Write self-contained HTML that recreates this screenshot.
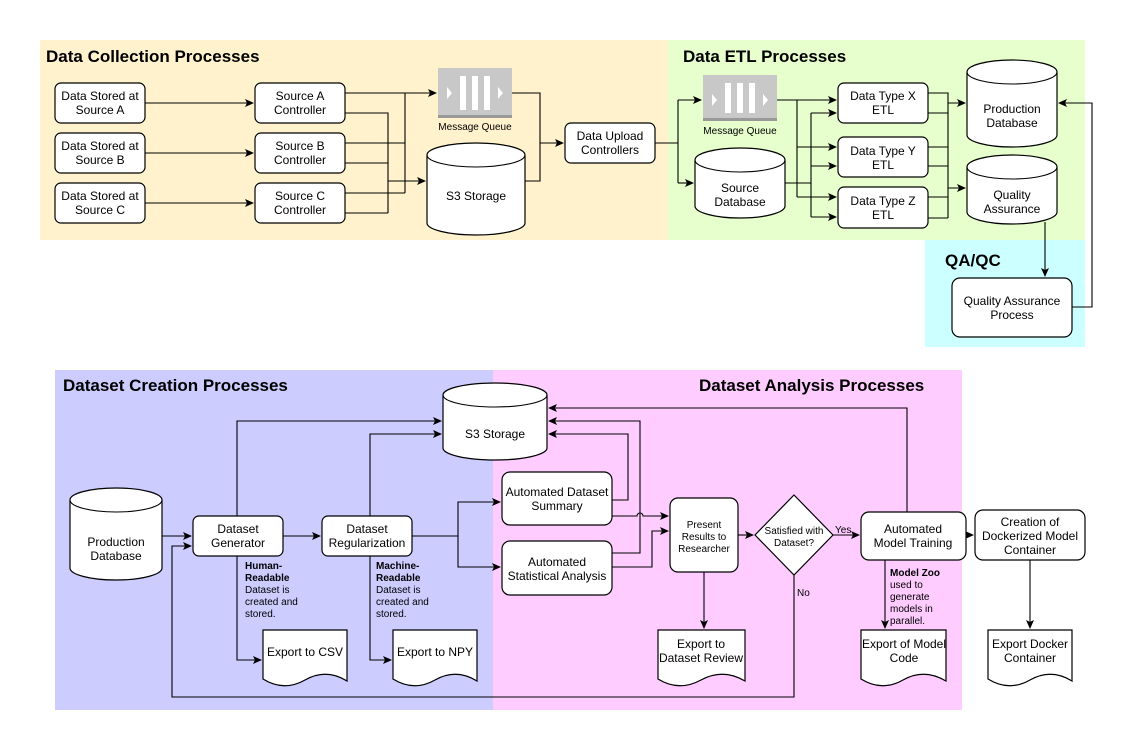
<!DOCTYPE html>
<html><head><meta charset="utf-8"><style>
html,body{margin:0;padding:0;background:#fff;}
svg{display:block;font-family:"Liberation Sans",Arial,sans-serif;}
.b{fill:#fff;stroke:#000;stroke-width:1.2;}
.l{fill:none;stroke:#000;stroke-width:1.1;}
.t{font-size:12px;text-anchor:middle;fill:#000;}
.s{font-size:10px;text-anchor:middle;fill:#000;}
.h{font-size:17px;font-weight:bold;fill:#000;}
.a{font-size:10px;fill:#000;}
</style></head><body>
<svg width="1141" height="751" viewBox="0 0 1141 751" xmlns="http://www.w3.org/2000/svg">
<defs>
<marker id="ar" markerWidth="10" markerHeight="10" refX="8" refY="4" orient="auto" markerUnits="userSpaceOnUse">
<path d="M0,0 L9,4 L0,8 L2,4 z" fill="#000"/></marker>
</defs>
<!-- backgrounds -->
<rect x="40" y="40" width="628" height="200" fill="#fff2cc"/>
<rect x="668" y="40" width="417" height="200" fill="#e6ffcc"/>
<rect x="925" y="240" width="160" height="107" fill="#ccffff"/>
<rect x="55" y="370" width="438" height="340" fill="#ccccff"/>
<rect x="493" y="370" width="469" height="340" fill="#ffccff"/>
<text class="h" x="46" y="62">Data Collection Processes</text>
<text class="h" x="683" y="62">Data ETL Processes</text>
<text class="h" x="945" y="266">QA/QC</text>
<text class="h" x="63" y="391">Dataset Creation Processes</text>
<text class="h" x="699" y="391">Dataset Analysis Processes</text>

<!-- top connectors -->
<g class="l">
<path d="M145 103 H253" marker-end="url(#ar)"/>
<path d="M145 153 H253" marker-end="url(#ar)"/>
<path d="M145 203 H253" marker-end="url(#ar)"/>
<path d="M345 93 H405 V193 M345 143 H405 M345 193 H405"/>
<path d="M405 93 H436" marker-end="url(#ar)"/>
<path d="M345 113 H388 V213 M345 163 H388 M345 213 H388"/>
<path d="M388 181 H425" marker-end="url(#ar)"/>
<path d="M512 93 H540 V143 M525 181 H540 V143"/>
<path d="M540 143 H563" marker-end="url(#ar)"/>
<path d="M655 143 H678 V100 M678 143 V183"/>
<path d="M678 100 H701" marker-end="url(#ar)"/>
<path d="M678 183 H693" marker-end="url(#ar)"/>
<path d="M777 100 H797 V197"/>
<path d="M797 100 H836" marker-end="url(#ar)"/>
<path d="M797 147 H836" marker-end="url(#ar)"/>
<path d="M797 197 H836" marker-end="url(#ar)"/>
<path d="M785 183 H811 V113 M811 183 V217"/>
<path d="M811 113 H836" marker-end="url(#ar)"/>
<path d="M811 166 H836" marker-end="url(#ar)"/>
<path d="M811 217 H836" marker-end="url(#ar)"/>
<path d="M928 93 H948 V218 M928 113 H948 M928 147 H948 M928 166 H948 M928 197 H948 M928 218 H948"/>
<path d="M948 103 H965" marker-end="url(#ar)"/>
<path d="M948 188 H965" marker-end="url(#ar)"/>
<path d="M1045 222 V276" marker-end="url(#ar)"/>
<path d="M1072 307 H1092 V103 H1059" marker-end="url(#ar)"/>
</g>

<!-- top nodes -->
<rect class="b" x="55" y="83" width="90" height="40" rx="6"/>
<text class="t" x="100" y="100">Data Stored at</text><text class="t" x="100" y="114">Source A</text>
<rect class="b" x="55" y="133" width="90" height="40" rx="6"/>
<text class="t" x="100" y="150">Data Stored at</text><text class="t" x="100" y="164">Source B</text>
<rect class="b" x="55" y="183" width="90" height="40" rx="6"/>
<text class="t" x="100" y="200">Data Stored at</text><text class="t" x="100" y="214">Source C</text>
<rect class="b" x="255" y="83" width="90" height="40" rx="6"/>
<text class="t" x="300" y="100">Source A</text><text class="t" x="300" y="114">Controller</text>
<rect class="b" x="255" y="133" width="90" height="40" rx="6"/>
<text class="t" x="300" y="150">Source B</text><text class="t" x="300" y="164">Controller</text>
<rect class="b" x="255" y="183" width="90" height="40" rx="6"/>
<text class="t" x="300" y="200">Source C</text><text class="t" x="300" y="214">Controller</text>

<!-- MQ 1 -->
<g>
<rect x="438" y="68" width="74" height="50" fill="#c8c8c8"/>
<rect x="438" y="115" width="74" height="3" fill="#999"/>
<rect x="460" y="76" width="6" height="34" fill="#fff"/><rect x="472" y="76" width="6" height="34" fill="#fff"/><rect x="484" y="76" width="6" height="34" fill="#fff"/>
<path d="M447 87 L452 93 L447 99 z M498 87 L503 93 L498 99 z" fill="#fff"/>
<text class="a" x="475" y="130" text-anchor="middle" font-size="8">Message Queue</text>
</g>
<!-- S3 top -->
<path class="b" d="M427 155 A49 12 0 0 1 525 155 V223 A49 12 0 0 1 427 223 Z"/>
<path class="l" d="M427 155 A49 12 0 0 0 525 155"/>
<text class="t" x="476" y="200">S3 Storage</text>
<rect class="b" x="565" y="123" width="90" height="40" rx="6"/>
<text class="t" x="610" y="140">Data Upload</text><text class="t" x="610" y="154">Controllers</text>

<!-- MQ 2 -->
<g>
<rect x="703" y="75" width="74" height="46" fill="#c8c8c8"/>
<rect x="703" y="118" width="74" height="3" fill="#999"/>
<rect x="725" y="83" width="6" height="30" fill="#fff"/><rect x="737" y="83" width="6" height="30" fill="#fff"/><rect x="749" y="83" width="6" height="30" fill="#fff"/>
<path d="M712 94 L717 100 L712 106 z M763 94 L768 100 L763 106 z" fill="#fff"/>
<text class="a" x="740" y="134" text-anchor="middle" font-size="8">Message Queue</text>
</g>
<path class="b" d="M695 160 A45 12 0 0 1 785 160 V206 A45 12 0 0 1 695 206 Z"/>
<path class="l" d="M695 160 A45 12 0 0 0 785 160"/>
<text class="t" x="740" y="192">Source</text><text class="t" x="740" y="206">Database</text>
<rect class="b" x="838" y="83" width="90" height="40" rx="6"/>
<text class="t" x="883" y="100">Data Type X</text><text class="t" x="883" y="114">ETL</text>
<rect class="b" x="838" y="137" width="90" height="40" rx="6"/>
<text class="t" x="883" y="155">Data Type Y</text><text class="t" x="883" y="169">ETL</text>
<rect class="b" x="838" y="187" width="90" height="41" rx="6"/>
<text class="t" x="883" y="205">Data Type Z</text><text class="t" x="883" y="219">ETL</text>
<path class="b" d="M967 72 A45 12 0 0 1 1057 72 V135 A45 12 0 0 1 967 135 Z" stroke-width="1.6"/>
<path class="l" d="M967 72 A45 12 0 0 0 1057 72" stroke-width="1.6"/>
<text class="t" x="1012" y="113">Production</text><text class="t" x="1012" y="127">Database</text>
<path class="b" d="M967 167 A45 12 0 0 1 1057 167 V212 A45 12 0 0 1 967 212 Z"/>
<path class="l" d="M967 167 A45 12 0 0 0 1057 167"/>
<text class="t" x="1012" y="199">Quality</text><text class="t" x="1012" y="213">Assurance</text>
<rect class="b" x="952" y="278" width="120" height="59" rx="8"/>
<text class="t" x="1012" y="305">Quality Assurance</text><text class="t" x="1012" y="319">Process</text>

<!-- bottom connectors -->
<g class="l">
<path d="M162 536 H191" marker-end="url(#ar)"/>
<path d="M794 575 V697 H172 V546 H191" marker-end="url(#ar)"/>
<path d="M283 536 H320" marker-end="url(#ar)"/>
<path d="M237 516 V421 H441" marker-end="url(#ar)"/>
<path d="M237 556 V660 H261" marker-end="url(#ar)"/>
<path d="M370 516 V434 H441" marker-end="url(#ar)"/>
<path d="M370 556 V660 H391" marker-end="url(#ar)"/>
<path d="M412 536 H458 V502 H500" marker-end="url(#ar)"/>
<path d="M458 536 V567 H500" marker-end="url(#ar)"/>
<path d="M907 512 V408 H549" marker-end="url(#ar)"/>
<path d="M612 500 H628 V434 H549" marker-end="url(#ar)"/>
<path d="M612 553 H640 V421 H549" marker-end="url(#ar)"/>
<path d="M612 516 H637 A3 3 0 0 1 643 516 H668" marker-end="url(#ar)"/>
<path d="M612 567 H652 V531 H668" marker-end="url(#ar)"/>
<path d="M738 535 H753" marker-end="url(#ar)"/>
<path d="M704 572 V628" marker-end="url(#ar)"/>
<path d="M833 535 H859" marker-end="url(#ar)"/>
<path d="M966 535 H973" marker-end="url(#ar)"/>
<path d="M885 560 V628" marker-end="url(#ar)"/>
<path d="M1030 560 V628" marker-end="url(#ar)"/>
</g>

<!-- bottom nodes -->
<path class="b" d="M70 500 A46 12 0 0 1 162 500 V568 A46 12 0 0 1 70 568 Z" stroke-width="1.6"/>
<path class="l" d="M70 500 A46 12 0 0 0 162 500" stroke-width="1.6"/>
<text class="t" x="116" y="546">Production</text><text class="t" x="116" y="560">Database</text>
<rect class="b" x="193" y="516" width="90" height="40" rx="6"/>
<text class="t" x="238" y="533">Dataset</text><text class="t" x="238" y="547">Generator</text>
<rect class="b" x="322" y="516" width="90" height="40" rx="6"/>
<text class="t" x="367" y="533">Dataset</text><text class="t" x="367" y="547">Regularization</text>
<path class="b" d="M443 395 A52 12 0 0 1 547 395 V448 A52 12 0 0 1 443 448 Z"/>
<path class="l" d="M443 395 A52 12 0 0 0 547 395"/>
<text class="t" x="495" y="438">S3 Storage</text>
<rect class="b" x="502" y="472" width="110" height="53" rx="8"/>
<text class="t" x="557" y="496">Automated Dataset</text><text class="t" x="557" y="510">Summary</text>
<rect class="b" x="502" y="541" width="110" height="54" rx="8"/>
<text class="t" x="557" y="566">Automated</text><text class="t" x="557" y="580">Statistical Analysis</text>
<rect class="b" x="670" y="498" width="68" height="74" rx="8"/>
<text class="s" x="704" y="528">Present</text><text class="s" x="704" y="540">Results to</text><text class="s" x="704" y="552">Researcher</text>
<path class="b" d="M794 495 L833 535 L794 575 L755 535 Z"/>
<text class="s" x="794" y="534">Satisfied with</text><text class="s" x="794" y="546">Dataset?</text>
<text class="a" x="835" y="533">Yes</text>
<text class="a" x="797" y="596">No</text>
<rect class="b" x="861" y="512" width="105" height="48" rx="8"/>
<text class="t" x="913" y="533">Automated</text><text class="t" x="913" y="547">Model Training</text>
<rect class="b" x="975" y="510" width="110" height="50" rx="8"/>
<text class="t" x="1030" y="526">Creation of</text><text class="t" x="1030" y="540">Dockerized Model</text><text class="t" x="1030" y="554">Container</text>

<!-- annotations -->
<g class="a">
<text x="245" y="569" font-weight="bold">Human-</text><text x="245" y="581" font-weight="bold">Readable</text>
<text x="245" y="593">Dataset is</text><text x="245" y="605">created and</text><text x="245" y="617">stored.</text>
<text x="376" y="569" font-weight="bold">Machine-</text><text x="376" y="581" font-weight="bold">Readable</text>
<text x="376" y="593">Dataset is</text><text x="376" y="605">created and</text><text x="376" y="617">stored.</text>
<text x="890" y="576" font-weight="bold">Model Zoo</text><text x="890" y="588">used to</text>
<text x="890" y="600">generate</text><text x="890" y="612">models in</text><text x="890" y="624">parallel.</text>
</g>

<!-- documents -->
<path class="b" d="M263 630 H347 V681 Q326 668 305 680 T263 679 Z"/>
<text class="t" x="305" y="656">Export to CSV</text>
<path class="b" d="M393 630 H477 V681 Q456 668 435 680 T393 679 Z"/>
<text class="t" x="435" y="656">Export to NPY</text>
<path class="b" d="M658 630 H745 V681 Q723 668 701 680 T658 679 Z"/>
<text class="t" x="701" y="648">Export to</text><text class="t" x="701" y="662">Dataset Review</text>
<path class="b" d="M861 630 H946 V681 Q924 668 903 680 T861 679 Z"/>
<text class="t" x="904" y="648">Export of Model</text><text class="t" x="904" y="662">Code</text>
<path class="b" d="M988 630 H1072 V681 Q1051 668 1030 680 T988 679 Z"/>
<text class="t" x="1030" y="648">Export Docker</text><text class="t" x="1030" y="662">Container</text>
</svg>
</body></html>
